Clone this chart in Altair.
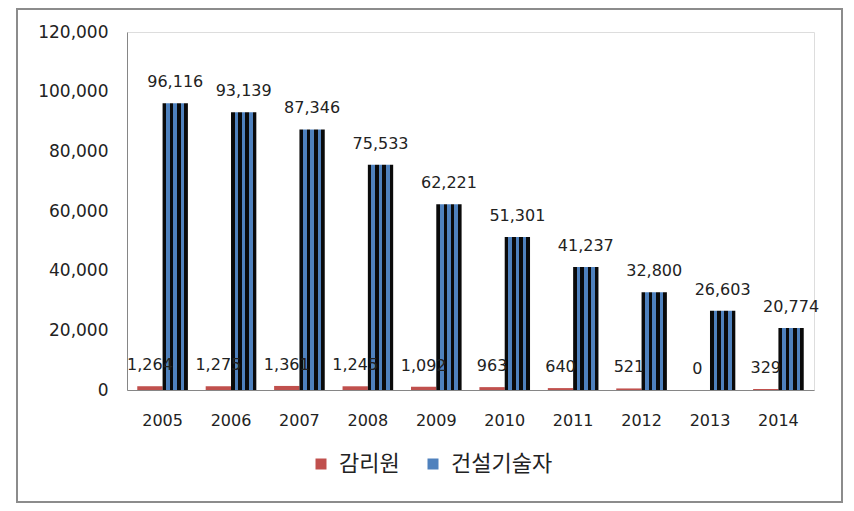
import altair as alt
import pandas as pd

years = ["2005", "2006", "2007", "2008", "2009", "2010", "2011", "2012", "2013", "2014"]
supervisors = [1264, 1275, 1361, 1245, 1092, 963, 640, 521, 0, 329]
engineers = [96116, 93139, 87346, 75533, 62221, 51301, 41237, 32800, 26603, 20774]
series_names = ["감리원", "건설기술자"]
y_ticks = [0, 20000, 40000, 60000, 80000, 100000, 120000]

RED = "#c0504d"
BLUE = "#4f81bd"
STRIPE_DARK = "#0a0a0a"

rows = []
for y, s, e in zip(years, supervisors, engineers):
    rows.append({"year": y, "series": series_names[0], "value": s})
    rows.append({"year": y, "series": series_names[1], "value": e})
df = pd.DataFrame(rows)

# vertical stripes for the engineer bars (hard-stop linear gradient)
stripe_colors = [STRIPE_DARK, BLUE, STRIPE_DARK, BLUE, STRIPE_DARK, BLUE, STRIPE_DARK]
n = len(stripe_colors)
stops = []
for i, c in enumerate(stripe_colors):
    stops.append(alt.GradientStop(offset=i / n, color=c))
    stops.append(alt.GradientStop(offset=(i + 1) / n, color=c))
stripes = alt.LinearGradient(gradient="linear", stops=stops, x1=0, x2=1, y1=0, y2=0)

x_enc = alt.X(
    "year:N",
    sort=years,
    scale=alt.Scale(paddingInner=0.26, paddingOuter=0.15),
    axis=alt.Axis(
        title=None, labelAngle=0, ticks=False, domainColor="#868686",
        labelFont="DejaVu Sans", labelFontSize=16, labelColor="#222222",
        labelPadding=22,
    ),
)
y_enc = alt.Y(
    "value:Q",
    scale=alt.Scale(domain=[0, 120000], nice=False),
    axis=alt.Axis(
        title=None, values=y_ticks, labelExpr="format(datum.value, ',')", grid=False, ticks=False,
        domainColor="#868686", labelFont="DejaVu Sans", labelFontSize=17,
        labelColor="#222222", labelPadding=19,
    ),
)
xoff = alt.XOffset("series:N", sort=series_names, scale=alt.Scale(domain=series_names, paddingInner=0, paddingOuter=0))

base = alt.Chart(df)

red_bars = base.transform_filter(alt.datum.series == series_names[0]).mark_bar().encode(
    x=x_enc, y=y_enc, xOffset=xoff,
    color=alt.Color(
        "series:N",
        scale=alt.Scale(domain=series_names, range=[RED, BLUE]),
        legend=alt.Legend(
            title=None, orient="none", direction="horizontal", legendX=183, legendY=421,
            symbolType="square", symbolSize=121, symbolStrokeWidth=0,
            labelFont="Noto Sans CJK KR", labelFontSize=22, labelColor="#222222",
            labelOffset=7, columnPadding=22,
        ),
    ),
)

blue_bars = base.transform_filter(alt.datum.series == series_names[1]).mark_bar(color=stripes).encode(
    x=x_enc, y=y_enc, xOffset=xoff,
)

labels = base.mark_text(
    baseline="middle", align="center", dy=-21, font="DejaVu Sans", fontSize=16, color="#222222"
).encode(
    x=x_enc, y=y_enc, xOffset=xoff,
    text=alt.Text("value:Q", format=","),
)

frame = alt.Chart(pd.DataFrame({"f": [0]})).mark_rect(
    fill="transparent", stroke="#8c8c8c", strokeWidth=2
).encode(
    x=alt.value(-110), x2=alt.value(715), y=alt.value(-23), y2=alt.value(470)
)

chart = alt.layer(frame, red_bars, blue_bars, labels).properties(
    width=687, height=358,
    autosize=alt.AutoSizeParams(type="none"),
    padding={"left": 119, "top": 24, "right": 30, "bottom": 120},
).configure_view(strokeWidth=0).configure(background="white")

chart.save("out.html", embed_options={"renderer": "svg", "actions": False})
